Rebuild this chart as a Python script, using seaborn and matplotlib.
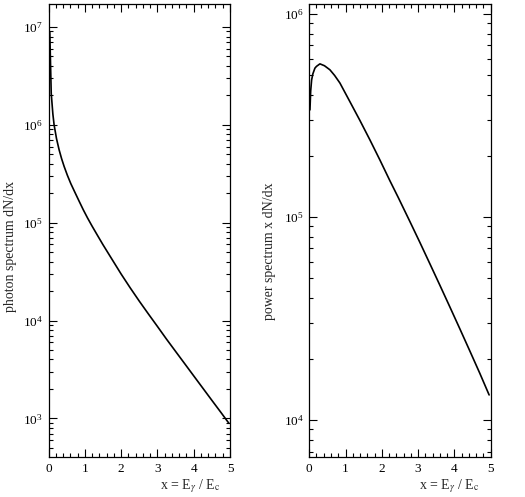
import pandas as pd
import seaborn as sns
import matplotlib
matplotlib.use('Agg')
import matplotlib.pyplot as plt
from matplotlib.ticker import LogLocator, LogFormatterMathtext, MultipleLocator, NullFormatter

# photon spectrum dN/dx
photon_x = [0.035, 0.075, 0.09, 0.12, 0.154, 0.22, 0.292, 0.36, 0.43, 0.52,
            0.614, 0.72, 0.843, 0.96, 1.074, 1.2, 1.35, 1.5, 1.75, 2.0,
            2.25, 2.5, 2.75, 3.0, 3.25, 3.5, 3.75, 4.0, 4.25, 4.5,
            4.75, 4.97]
photon_y = [8.91e6, 2.09e6, 1.78e6, 1.29e6, 1.00e6, 7.24e5, 5.56e5, 4.52e5, 3.76e5, 3.05e5,
            2.51e5, 2.07e5, 1.66e5, 1.35e5, 1.12e5, 9.23e4, 7.41e4, 5.96e4, 4.22e4, 2.99e4,
            2.16e4, 1.58e4, 1.17e4, 8.71e3, 6.46e3, 4.84e3, 3.63e3, 2.72e3, 2.04e3, 1.53e3,
            1.15e3, 891]

# power spectrum x dN/dx
power_x = [0.02, 0.04, 0.066, 0.10, 0.157, 0.20, 0.295, 0.42, 0.57, 0.70,
           0.846, 1.121, 1.397, 1.672, 1.948, 2.223, 2.452, 2.774, 3.05, 3.325,
           3.60, 3.876, 4.15, 4.427, 4.702, 4.959]
power_y = [3.37e5, 4.17e5, 4.73e5, 5.07e5, 5.41e5, 5.52e5, 5.68e5, 5.56e5, 5.31e5, 4.98e5,
           4.57e5, 3.70e5, 2.99e5, 2.40e5, 1.91e5, 1.51e5, 1.25e5, 9.51e4, 7.50e4, 5.89e4,
           4.62e4, 3.61e4, 2.82e4, 2.19e4, 1.70e4, 1.33e4]

x_label = r'x = E$_{\gamma}$ / E$_{\rm c}$'


def style_axis(ax, ylim):
    ax.set_yscale('log')
    ax.set_xlim(0, 5)
    ax.set_ylim(*ylim)
    ax.xaxis.set_major_locator(MultipleLocator(1))
    ax.xaxis.set_minor_locator(MultipleLocator(0.2))
    ax.yaxis.set_major_locator(LogLocator(base=10))
    ax.yaxis.set_major_formatter(LogFormatterMathtext())
    ax.yaxis.set_minor_locator(LogLocator(base=10, subs=range(2, 10)))
    ax.yaxis.set_minor_formatter(NullFormatter())
    ax.tick_params(which='both', direction='in', top=True, right=True,
                   width=0.8, labelsize=9.5, colors='black')
    ax.tick_params(which='major', length=5.5, pad=4)
    ax.tick_params(which='minor', length=3)
    for s in ax.spines.values():
        s.set_linewidth(0.9)
        s.set_color('black')
    ax.grid(False)


def main():
    sns.set_style('ticks')
    plt.rcParams['font.family'] = ['Liberation Serif', 'DejaVu Serif']
    plt.rcParams['mathtext.fontset'] = 'stix'

    photon = pd.DataFrame({'x': photon_x, 'y': photon_y})
    power = pd.DataFrame({'x': power_x, 'y': power_y})

    fig = plt.figure(figsize=(5.25, 4.97), dpi=100)
    ax1 = fig.add_axes([0.0924, 0.0805, 0.3457, 0.9115])
    ax2 = fig.add_axes([0.589, 0.0805, 0.3455, 0.9115])

    sns.lineplot(data=photon, x='x', y='y', color='black', linewidth=1.2, ax=ax1)
    sns.lineplot(data=power, x='x', y='y', color='black', linewidth=1.2, ax=ax2)

    style_axis(ax1, (403, 1.72e7))
    style_axis(ax2, (6580, 1.12e6))

    ax1.set_ylabel('photon spectrum dN/dx', fontsize=10, va='center')
    ax1.yaxis.set_label_coords(-0.212, 0.464)
    ax2.set_ylabel('power spectrum x dN/dx', fontsize=10, va='center')
    ax2.yaxis.set_label_coords(-0.217, 0.455)

    for ax, xr in ((ax1, 0.945), (ax2, 0.941)):
        ax.set_xlabel(x_label, fontsize=10, ha='right', va='top')
        ax.xaxis.set_label_coords(xr, -0.044)

    fig.savefig('out.png', dpi=100, facecolor='white')


if __name__ == '__main__':
    main()
